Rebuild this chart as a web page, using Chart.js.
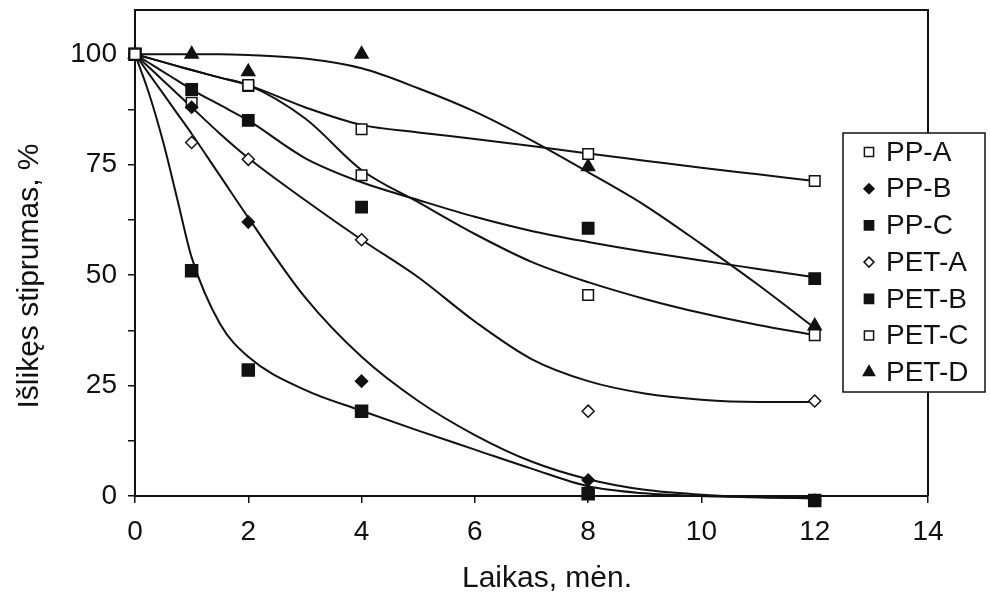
<!DOCTYPE html>
<html>
<head>
<meta charset="utf-8">
<script src="https://cdn.jsdelivr.net/npm/chart.js@4.4.1/dist/chart.umd.min.js"></script>
<style>
  html, body { margin: 0; padding: 0; background: #fff; }
</style>
</head>
<body>
<canvas id="strength-chart" width="990" height="599"></canvas>
<script>
// laikas (mėn.) kada matuota
const months = [0, 1, 2, 4, 8, 12];

// išlikęs stiprumas, % (matavimai)
const ppA  = [100, null, 93, 83, 77.4, 71.3];
const ppB  = [100, 88, 62, 26, 3.6, -1];
const ppC  = [100, 51, 28.5, 19.2, 0.5, -1];
const petA = [100, 80, 76.2, 58, 19.2, 21.5];
const petB = [100, 92, 85, 65.4, 60.6, 49.2];
const petC = [100, 89, 92.8, 72.6, 45.5, 36.4];
const petD = [100, 100, 96, 100, 74.5, 38.5];

// trendo kreivės
const fitMonths = [0, 0.25, 0.5, 0.75, 1, 1.5, 2, 3, 4, 5, 6, 7, 8, 9, 10, 11, 12];
const ppAFit  = [100, 99.1, 98.2, 97.3, 96.4, 94.7, 93, 88, 84, 82.3, 80.8, 79.2, 77.5, 75.9, 74.3, 72.8, 71.3];
const ppBFit  = [100, 95.5, 91, 86.5, 82, 72.5, 63, 45, 31.5, 21.5, 13.8, 7.8, 3.8, 1.4, 0.3, -0.3, -0.5];
const ppCFit  = [100, 91, 80, 67, 54, 39, 31.5, 24, 19.3, 14.8, 10.5, 6.2, 2.2, 0.6, 0, -0.3, -0.5];
const petAFit = [100, 97, 94, 91, 88, 82, 76.5, 67, 58, 49.5, 39.5, 31, 26, 23.2, 21.8, 21.3, 21.3];
const petBFit = [100, 98, 96, 94, 92, 88.5, 85, 76.5, 71, 67, 63.2, 60, 57.5, 55.3, 53.3, 51.4, 49.5];
const petCFit = [100, 99.1, 98.2, 97.3, 96.4, 94.7, 93, 85.5, 73.8, 66.5, 59.3, 53, 48.4, 44.6, 41.4, 38.7, 36.4];
const petDFit = [100, 100, 100, 100, 100, 100, 99.8, 99, 96.8, 92.3, 87, 80.5, 73.3, 65.8, 57, 47.8, 38];

const xTitle = 'Laikas, mėn.';
const yTitle = 'Išlikęs stiprumas, %';

const ink = '#111';
const fontName = '"Liberation Sans", Arial, sans-serif';

function pts(xs, ys) {
    let out = [];
    for (let i = 0; i < xs.length; i++) {
        if (ys[i] != null) out.push({ x: xs[i], y: ys[i] });
    }
    return out;
}

// žymekliai: forma, užpildas, dydis grafike ir legendoje
const series = [
    { label: 'PP-A',  data: ppA,  fit: ppAFit,  style: 'rect',     fill: '#fff', r: 7.5, lr: 6.5 },
    { label: 'PP-B',  data: ppB,  fit: ppBFit,  style: 'rectRot',  fill: ink,    r: 6,   lr: 5 },
    { label: 'PP-C',  data: ppC,  fit: ppCFit,  style: 'rect',     fill: ink,    r: 8.5, lr: 6.5 },
    { label: 'PET-A', data: petA, fit: petAFit, style: 'rectRot',  fill: '#fff', r: 6,   lr: 5 },
    { label: 'PET-B', data: petB, fit: petBFit, style: 'rect',     fill: ink,    r: 8,   lr: 6.5 },
    { label: 'PET-C', data: petC, fit: petCFit, style: 'rect',     fill: '#fff', r: 7.5, lr: 6.5 },
    { label: 'PET-D', data: petD, fit: petDFit, style: 'triangle', fill: ink,    r: 7.5, lr: 6.5 }
];

let datasets = [];
for (let s of series) {
    datasets.push({
        type: 'line',
        label: s.label + ' fit',
        data: pts(fitMonths, s.fit),
        borderColor: ink,
        borderWidth: 2,
        pointRadius: 0,
        cubicInterpolationMode: 'monotone',
        fill: false,
        clip: false,
        order: 2
    });
}
for (let s of series) {
    datasets.push({
        type: 'scatter',
        label: s.label,
        data: pts(months, s.data),
        pointStyle: s.style,
        pointRadius: s.r,
        pointBackgroundColor: s.fill,
        pointBorderColor: ink,
        pointBorderWidth: 1.5,
        showLine: false,
        clip: false,
        order: 1
    });
}

// rėmelis aplink grafiko sritį
const frameBox = {
    id: 'frameBox',
    beforeDatasetsDraw(chart) {
        const a = chart.chartArea;
        const ctx = chart.ctx;
        ctx.save();
        ctx.strokeStyle = ink;
        ctx.lineWidth = 2;
        ctx.beginPath();
        ctx.moveTo(a.left, a.top);
        ctx.lineTo(a.right, a.top);
        ctx.lineTo(a.right, a.bottom);
        ctx.stroke();
        ctx.restore();
    }
};

// ašių pavadinimai
const axisTitles = {
    id: 'axisTitles',
    afterDraw(chart, args, opts) {
        const ctx = chart.ctx;
        ctx.save();
        ctx.fillStyle = ink;
        ctx.font = opts.size + 'px ' + fontName;
        ctx.textAlign = 'center';
        ctx.textBaseline = 'middle';
        ctx.fillText(xTitle, opts.xAt[0], opts.xAt[1]);
        ctx.translate(opts.yAt[0], opts.yAt[1]);
        ctx.rotate(-Math.PI / 2);
        ctx.fillText(yTitle, 0, 0);
        ctx.restore();
    }
};

// legenda rėmelyje dešinėje
const boxLegend = {
    id: 'boxLegend',
    afterDraw(chart, args, opts) {
        const ctx = chart.ctx;
        ctx.save();
        ctx.fillStyle = '#fff';
        ctx.fillRect(opts.x, opts.y, opts.w, opts.h);
        ctx.strokeStyle = ink;
        ctx.lineWidth = 1.5;
        ctx.strokeRect(opts.x, opts.y, opts.w, opts.h);
        ctx.font = opts.size + 'px ' + fontName;
        ctx.textBaseline = 'middle';
        series.forEach((s, i) => {
            const cy = opts.y + opts.first + i * opts.step;
            ctx.fillStyle = s.fill;
            ctx.strokeStyle = ink;
            ctx.lineWidth = 1.5;
            Chart.helpers.drawPoint(ctx, { pointStyle: s.style, radius: s.lr, borderWidth: 1.5 }, opts.x + 26, cy);
            ctx.fillStyle = ink;
            ctx.fillText(s.label, opts.x + 43, cy + 1);
        });
        ctx.restore();
    }
};

let ctx1 = document.getElementById('strength-chart').getContext('2d');
let myChart1 = new Chart(ctx1, {
    data: { datasets: datasets },
    plugins: [frameBox, axisTitles, boxLegend],
    options: {
        responsive: false,
        animation: false,
        layout: { padding: { top: 10, right: 62, left: 0, bottom: 0 } },
        plugins: {
            legend: { display: false },
            tooltip: { enabled: false },
            axisTitles: { size: 30, xAt: [547, 579], yAt: [30, 276] },
            boxLegend: { x: 843, y: 133, w: 142, h: 259, first: 19, step: 36.7, size: 28 }
        },
        scales: {
            x: {
                type: 'linear',
                min: 0,
                max: 14,
                ticks: { stepSize: 2, color: ink, font: { family: fontName, size: 28 }, padding: 12, maxRotation: 0 },
                grid: { drawOnChartArea: false, drawTicks: true, tickLength: 7, color: ink, lineWidth: 1.5 },
                border: { color: ink, width: 2 },
                afterFit: function (scale) {
                    scale.height = 103;
                    scale.paddingLeft = 0;
                    scale.paddingRight = 0;
                }
            },
            y: {
                type: 'linear',
                min: 0,
                max: 110,
                afterBuildTicks: function (scale) {
                    scale.ticks = scale.ticks.filter(t => t.value <= 100);
                },
                ticks: {
                    stepSize: 12.5,
                    color: ink,
                    font: { family: fontName, size: 28 },
                    padding: 11,
                    autoSkip: false,
                    callback: function (v) { return v % 25 === 0 ? v : ''; }
                },
                grid: { drawOnChartArea: false, drawTicks: true, tickLength: 7, color: ink, lineWidth: 1.5 },
                border: { color: ink, width: 2 },
                afterFit: function (scale) {
                    scale.width = 135;
                    scale.paddingTop = 0;
                    scale.paddingBottom = 0;
                }
            }
        }
    }
});
</script>
</body>
</html>
